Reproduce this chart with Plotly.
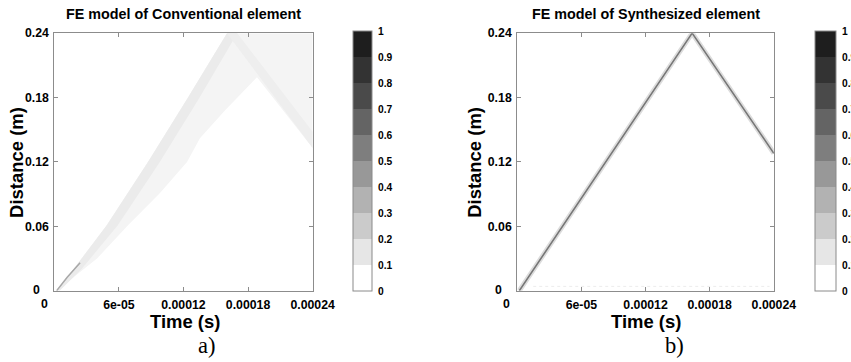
import plotly.graph_objects as go

# page size chosen so the photographed picture lands on 851x362
W, H = 873, 364
SX, SY, OY = 0.975, 0.975, 7.0


def px(x):
    return x / SX / W


def py(y):
    return 1 - (y - OY) / SY / H


def fs(s):
    return s / SX


# ---------------- data ----------------
time_ticks = [0, 6e-05, 0.00012, 0.00018, 0.00024]
time_tick_text = ["", "6e-05", "0.00012", "0.00018", "0.00024"]
dist_ticks = [0, 0.06, 0.12, 0.18, 0.24]
dist_tick_text = ["", "0.06", "0.12", "0.18", "0.24"]
level_ticks = [0, 0.1, 0.2, 0.3, 0.4, 0.5, 0.6, 0.7, 0.8, 0.9, 1]
level_tick_text = ["0", "0.1", "0.2", "0.3", "0.4", "0.5", "0.6", "0.7", "0.8", "0.9", "1"]
level_colors = ["#ffffff", "#e6e6e6", "#cbcbcb", "#b2b2b2", "#989898",
                "#7e7e7e", "#646464", "#4a4a4a", "#333333", "#1e1e1e"]

# (a) conventional element: dispersed wave region (outline)
conv_band_t = [2.2e-6, 1.76e-5, 4.87e-5, 8.70e-5, 1.242e-4, 1.604e-4, 2.4e-4, 2.4e-4,
               1.883e-4, 1.585e-4, 1.353e-4, 1.233e-4, 9.82e-5, 6.85e-5, 3.97e-5, 2.2e-6]
conv_band_d = [0.0, 0.0197, 0.0609, 0.120, 0.180, 0.240, 0.240, 0.133,
               0.199, 0.168, 0.142, 0.120, 0.091, 0.0609, 0.030, 0.0]
# denser strip along the incident front
conv_core_t = [2.2e-6, 1.76e-5, 4.87e-5, 8.70e-5, 1.242e-4, 1.604e-4, 1.70e-4,
               1.35e-4, 9.8e-5, 5.9e-5, 2.5e-5, 5e-6]
conv_core_d = [0.0, 0.0197, 0.0609, 0.120, 0.180, 0.240, 0.240,
               0.180, 0.120, 0.0609, 0.0197, 0.0]
# denser strip along the reflected front
conv_refl_t = [1.604e-4, 1.70e-4, 2.4e-4, 2.4e-4]
conv_refl_d = [0.240, 0.240, 0.148, 0.133]
# short darker start of the front
conv_start_t = [2.2e-6, 1.2e-5, 2.4e-5]
conv_start_d = [0.0, 0.0125, 0.026]

# (b) synthesized element: sharp wave front and its reflection
syn_front_t = [2.0e-6, 1.636e-4, 2.4e-4]
syn_front_d = [0.0, 0.240, 0.128]
syn_ripple_t = [1.5e-5, 2.36e-4]
syn_ripple_d = [0.004, 0.004]

# ---------------- figure ----------------
scale = []
for i, c in enumerate(level_colors):
    scale.append([i / 10, c])
    scale.append([(i + 1) / 10, c])

fig = go.Figure()


def cbar_trace(xa, ya, xpos, thick):
    return go.Scatter(
        x=[-1, -1], y=[-1, -1], xaxis=xa, yaxis=ya, mode="markers",
        hoverinfo="skip", showlegend=False,
        marker=dict(color=[0, 1], cmin=0, cmax=1, colorscale=scale, showscale=True, size=1,
                    colorbar=dict(
                        x=px(xpos), xanchor="left", xpad=0, ypad=0,
                        y=py(31), yanchor="top", len=(258 / SY) / H, lenmode="fraction",
                        thickness=thick / SX, thicknessmode="pixels",
                        outlinewidth=1, outlinecolor="#8a8a8a",
                        tickvals=level_ticks, ticktext=level_tick_text,
                        ticks="outside", ticklen=4, tickcolor="rgba(0,0,0,0)",
                        tickfont=dict(family="Liberation Sans", size=fs(10), color="black",
                                      weight="bold"),
                    )))


# panel a
fig.add_trace(go.Scatter(x=conv_band_t, y=conv_band_d, xaxis="x", yaxis="y", mode="lines",
                         fill="toself", fillcolor="#f4f4f4", line=dict(width=0),
                         hoverinfo="skip", showlegend=False))
fig.add_trace(go.Scatter(x=conv_core_t, y=conv_core_d, xaxis="x", yaxis="y", mode="lines",
                         fill="toself", fillcolor="#ebebeb", line=dict(width=0),
                         hoverinfo="skip", showlegend=False))
fig.add_trace(go.Scatter(x=conv_refl_t, y=conv_refl_d, xaxis="x", yaxis="y", mode="lines",
                         fill="toself", fillcolor="#eeeeee", line=dict(width=0),
                         hoverinfo="skip", showlegend=False))
fig.add_trace(go.Scatter(x=conv_start_t, y=conv_start_d, xaxis="x", yaxis="y", mode="lines",
                         line=dict(width=1.5, color="#a8a8a8"),
                         hoverinfo="skip", showlegend=False))
fig.add_trace(cbar_trace("x", "y", 353, 19))

# panel b
fig.add_trace(go.Scatter(x=syn_ripple_t, y=syn_ripple_d, xaxis="x2", yaxis="y2", mode="lines",
                         line=dict(width=1, color="#ececec", dash="dot"),
                         hoverinfo="skip", showlegend=False))
fig.add_trace(go.Scatter(x=syn_front_t, y=syn_front_d, xaxis="x2", yaxis="y2", mode="lines",
                         line=dict(width=5, color="#dcdcdc"),
                         hoverinfo="skip", showlegend=False))
fig.add_trace(go.Scatter(x=syn_front_t, y=syn_front_d, xaxis="x2", yaxis="y2", mode="lines",
                         line=dict(width=1.6, color="#777777"),
                         hoverinfo="skip", showlegend=False))
fig.add_trace(cbar_trace("x2", "y2", 815, 20))

tickfont = dict(family="Liberation Sans", size=fs(12), color="black", weight="bold")
ax_common = dict(showgrid=False, zeroline=False, showline=True, linecolor="#8c8c8c",
                 linewidth=1, mirror="ticks", ticks="inside", ticklen=4, tickcolor="#8c8c8c",
                 tickfont=tickfont, fixedrange=True)

ydom = [py(289), py(33)]
fig.update_layout(
    width=W, height=H, margin=dict(l=0, r=0, t=0, b=0),
    paper_bgcolor="white", plot_bgcolor="white",
    xaxis=dict(domain=[px(54.3), px(312.7)], range=[0, 0.00024], anchor="y",
               tickvals=time_ticks, ticktext=time_tick_text, ticklabelstandoff=3, **ax_common),
    yaxis=dict(domain=ydom, range=[0, 0.24], anchor="x",
               tickvals=dist_ticks, ticktext=dist_tick_text, ticklabelstandoff=2, **ax_common),
    xaxis2=dict(domain=[px(517.3), px(774)], range=[0, 0.00024], anchor="y2",
                tickvals=time_ticks, ticktext=time_tick_text, ticklabelstandoff=3, **ax_common),
    yaxis2=dict(domain=ydom, range=[0, 0.24], anchor="x2",
                tickvals=dist_ticks, ticktext=dist_tick_text, ticklabelstandoff=2, **ax_common),
)


def ann(text, x, y, size, family="Liberation Sans", bold=True, angle=0):
    fig.add_annotation(text=text, x=px(x), y=py(y), xref="paper", yref="paper",
                       showarrow=False, textangle=angle, xanchor="center", yanchor="middle",
                       borderpad=0,
                       font=dict(family=family, size=fs(size), color="black",
                                 weight="bold" if bold else "normal"))


# titles
ann("FE model of Conventional element", 184, 14, 14)
ann("FE model of Synthesized element", 646, 14, 14)
# axis titles
ann("Time (s)", 185, 320, 18)
ann("Time (s)", 646, 320, 18)
ann("Distance (m)", 17, 161, 18, angle=-90)
ann("Distance (m)", 475, 161, 18, angle=-90)
# zero labels (offset like the original)
ann("0", 45, 302, 12)
ann("0", 37, 288, 12)
ann("0", 507, 302, 12)
ann("0", 499, 288, 12)
# panel labels
ann("a)", 207, 344, 22, family="Liberation Serif", bold=False)
ann("b)", 675, 344, 22, family="Liberation Serif", bold=False)

fig.write_html("out.html", config={"displayModeBar": False},
               post_script="document.body.style.margin='0';document.body.style.overflow='hidden';")
